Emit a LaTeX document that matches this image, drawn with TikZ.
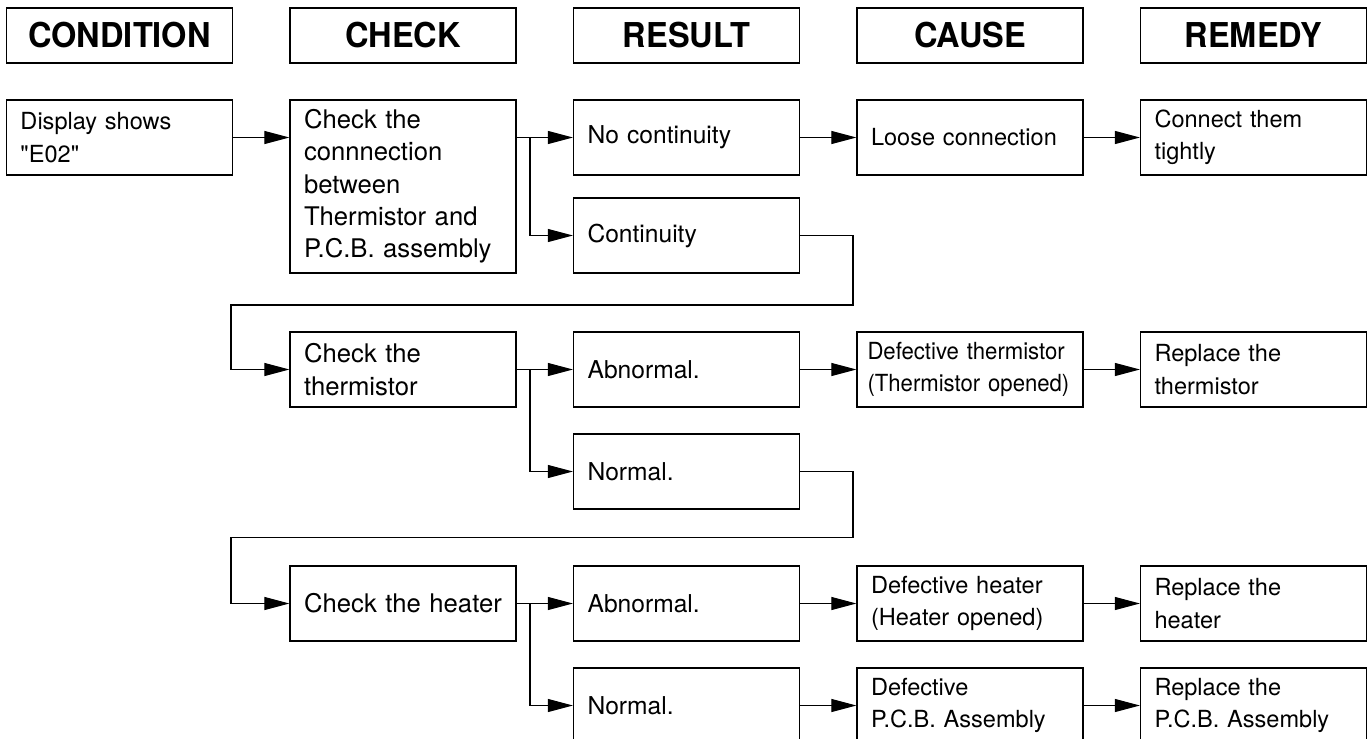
\documentclass[tikz,border=0pt]{standalone}
\usepackage{fontspec}
\setmainfont{TeX Gyre Heros}
\newfontfamily\narrowfont[FakeStretch=0.94]{TeX Gyre Heros}
\newfontfamily\headfont[FakeStretch=0.95]{TeX Gyre Heros}
\usepackage{tikz}
\usetikzlibrary{arrows.meta}

\tikzset{
	hdr/.style={draw,line width=0.7pt,minimum width=4.52cm,minimum height=1.1cm,
		font=\headfont\fontsize{19.5}{22}\selectfont\bfseries},
	cell/.style={draw,line width=0.7pt,text width=3.96cm,inner xsep=0.28cm,
		minimum height=1.5cm,align=left,font=\fontsize{13.4}{18.4}\selectfont},
	chkcell/.style={cell,font=\fontsize{14.6}{18.4}\selectfont},
	rescell/.style={cell,font=\fontsize{14}{18.4}\selectfont},
	arr/.style={-{Triangle[length=0.5cm,width=0.26cm]},line width=0.6pt},
}

\begin{document}
\begin{tikzpicture}
		\useasboundingbox (0,0) rectangle (27.42,-14.78);
		
		% column heads
		\node[hdr] (hcond) at (2.39,-0.71) {CONDITION};
		\node[hdr] (hchk) at (8.06,-0.71) {CHECK};
		\node[hdr] (hres) at (13.73,-0.71) {RESULT};
		\node[hdr] (hcause) at (19.40,-0.71) {CAUSE};
		\node[hdr] (hrem) at (25.07,-0.71) {REMEDY};
		
		% connection check
		\node[cell] (disp) at (2.39,-2.75) {Display shows\\\textquotedbl E02\textquotedbl};
		\node[chkcell,minimum height=3.46cm] (chkcon) at (8.06,-3.73)
			{Check the\\connnection\\between\\Thermistor and\\P.C.B. assembly};
		\node[rescell] (nocont) at (13.73,-2.75) {No continuity};
		\node[rescell] (cont) at (13.73,-4.71) {Continuity};
		\node[cell] (loose) at (19.40,-2.75) {Loose connection};
		\node[cell] (tight) at (25.07,-2.75) {Connect them\\tightly};
		
		\draw[arr] (disp.east |- nocont) -- (chkcon.west |- nocont);
		\draw[arr] (chkcon.east |- nocont) -- (nocont);
		\draw[arr] (10.6,-2.75) |- (cont);
		\draw[arr] (nocont) -- (loose);
		\draw[arr] (loose) -- (tight);
		
		% thermistor check
		\node[chkcell] (chkth) at (8.06,-7.39) {Check the\\thermistor};
		\node[rescell] (abth) at (13.73,-7.39) {Abnormal.};
		\node[rescell] (noth) at (13.73,-9.43) {Normal.};
		\node[cell,text width=4.1cm,inner xsep=0.21cm,font=\narrowfont\fontsize{13.4}{18.4}\selectfont]
			(defth) at (19.40,-7.39) {Defective thermistor\\(Thermistor opened)};
		\node[cell] (repth) at (25.07,-7.39) {Replace the\\thermistor};
		
		\draw[arr] (cont.east) -- (17.06,-4.71) |- (4.62,-6.1) |- (chkth.west);
		\draw[arr] (chkth) -- (abth);
		\draw[arr] (10.6,-7.39) |- (noth);
		\draw[arr] (abth) -- (defth);
		\draw[arr] (defth) -- (repth);
		
		% heater check
		\node[chkcell] (chkht) at (8.06,-12.07) {Check the heater};
		\node[rescell] (abht) at (13.73,-12.07) {Abnormal.};
		\node[rescell] (noht) at (13.73,-14.11) {Normal.};
		\node[cell] (defht) at (19.40,-12.07) {Defective heater\\(Heater opened)};
		\node[cell] (repht) at (25.07,-12.07) {Replace the\\heater};
		\node[cell] (defpcb) at (19.40,-14.11) {Defective\\P.C.B. Assembly};
		\node[cell] (reppcb) at (25.07,-14.11) {Replace the\\P.C.B. Assembly};
		
		\draw[arr] (noth.east) -- (17.06,-9.43) |- (4.62,-10.75) |- (chkht.west);
		\draw[arr] (chkht) -- (abht);
		\draw[arr] (10.6,-12.07) |- (noht);
		\draw[arr] (abht) -- (defht);
		\draw[arr] (defht) -- (repht);
		\draw[arr] (noht) -- (defpcb);
		\draw[arr] (defpcb) -- (reppcb);
	\end{tikzpicture}
\end{document}
